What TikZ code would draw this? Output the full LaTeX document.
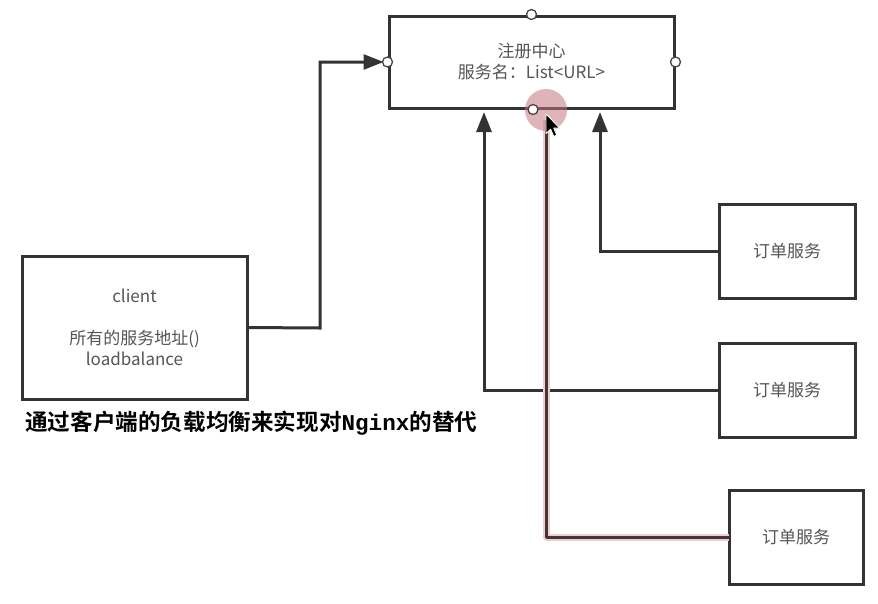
\documentclass[tikz,border=0pt]{standalone}
\usepackage{fontspec}
\setmainfont{Noto Sans CJK SC}
\newfontfamily\cjkbold{Noto Sans CJK SC Bold}
\newfontfamily\latinmono{Liberation Mono}
\usetikzlibrary{arrows.meta}
\definecolor{linegray}{HTML}{333333}
\definecolor{textgray}{HTML}{555555}
\definecolor{hilite}{RGB}{196,120,130}
\definecolor{wire}{HTML}{4A3437}
\tikzset{
  box/.style={draw=linegray, line width=3pt, fill=white, inner sep=0pt,
    text=textgray, font=\fontsize{17}{21}\selectfont, align=center},
  conn/.style={draw=linegray, line width=3pt},
  tip/.style={-{Triangle[length=20pt,width=15pt]}},
  port/.style={circle, draw=linegray!80!hilite, line width=1.3pt, fill=white,
    minimum size=10pt, inner sep=0pt},
}
\begin{document}
\begin{tikzpicture}[x=1pt,y=-1pt]
\useasboundingbox (0,0) rectangle (878,603);

% boxes
\node[box, minimum width=285pt, minimum height=92pt] (reg) at (531.5,62)
  {注册中心\\服务名：List<URL>};
\node[box, minimum width=225pt, minimum height=143pt] (client) at (134.5,327.5)
  {client\\[21pt]所有的服务地址()\\loadbalance};
\node[box, minimum width=136pt, minimum height=94pt] (o1) at (787,251) {订单服务};
\node[box, minimum width=136pt, minimum height=94pt] (o2) at (787,390) {订单服务};
\node[box, minimum width=134pt, minimum height=94pt] (o3) at (796,537) {订单服务};

% caption
\node[anchor=west, inner sep=0pt, font=\fontsize{22.6}{26}\selectfont] (cap) at (25,423)
  {\cjkbold 通过客户端的负载均衡来实现对{\latinmono\bfseries Nginx}的替代};

% routing points
\coordinate (bc) at (320,328);
\coordinate (t1) at (600,112);
\coordinate (t2) at (484,112);
\coordinate (t3) at (546,120);

% client -> registry
\draw[conn, tip] ([xshift=-1.5pt]client.east) -- (bc) |- ([xshift=-4pt]reg.west);
% services -> registry
\draw[conn, tip] ([xshift=1.5pt]o1.west) -| (t1);
\draw[conn, tip] ([xshift=1.5pt]o2.west) -| (t2);
% highlighted route
\draw[line width=7pt, hilite!35, line join=round] ([xshift=1.5pt]o3.west) -| (t3);
\draw[line width=3pt, wire, line join=round] ([xshift=1.5pt]o3.west) -| (t3);

% pointer highlight
\fill[hilite, fill opacity=0.55] (546,110) circle (21pt);

% ports
\node[port] (pt) at (reg.north) {};
\node[port] (pl) at (reg.west) {};
\node[port] (pr) at (reg.east) {};
\node[port] (pb) at ([xshift=1.5pt]reg.south) {};

% mouse pointer
\begin{scope}[shift={(546,114)}, scale=1.15]
\draw[fill=black, draw=white, line width=0.9pt, line join=round]
  (0,0) -- (0,17) -- (4,13.2) -- (6.8,19.5) -- (9.4,18.4) -- (6.7,12.2) -- (12,12.2) -- cycle;
\end{scope}
\end{tikzpicture}
\end{document}
